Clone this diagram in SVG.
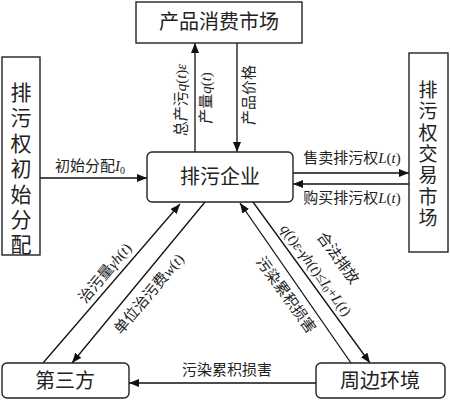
<svg xmlns="http://www.w3.org/2000/svg" width="450" height="401" viewBox="0 0 450 401">
<defs>
<marker id="ah" viewBox="0 0 10 8" refX="10" refY="4" markerWidth="10" markerHeight="8" markerUnits="userSpaceOnUse" orient="auto">
<path d="M0,0 L10,4 L0,8 z" fill="#111"/>
</marker>
<style>
.box{fill:#fff;stroke:#222;stroke-width:1.4}
.t{font-family:"Liberation Serif","Noto Sans CJK SC",serif;fill:#222}
.big{font-size:20px}
.lbl{font-size:15px}
.i{font-style:italic}
.ln{stroke:#111;stroke-width:1.3;fill:none;marker-end:url(#ah)}
</style>
</defs>
<rect width="450" height="401" fill="#fff"/>
<g id="connectors">
<line class="ln" x1="195" y1="153" x2="195" y2="43"/>
<line class="ln" x1="237" y1="43" x2="237" y2="152"/>
<line class="ln" x1="40" y1="178" x2="147" y2="178"/>
<line class="ln" x1="293" y1="173" x2="409" y2="173"/>
<line class="ln" x1="409" y1="184" x2="293" y2="184"/>
<line class="ln" x1="43" y1="363" x2="180" y2="204"/>
<line class="ln" x1="205" y1="202" x2="72" y2="363"/>
<line class="ln" x1="351" y1="363" x2="240" y2="203"/>
<line class="ln" x1="253" y1="202" x2="370" y2="363"/>
<line class="ln" x1="316" y1="383" x2="129" y2="383"/>
<g class="t lbl" dominant-baseline="central" text-anchor="middle">
<text transform="translate(181,100) rotate(-90)">总产污<tspan class="i">q</tspan>(<tspan class="i">t</tspan>)<tspan class="i">ε</tspan></text>
<text transform="translate(206,98) rotate(-90)">产量<tspan class="i">q</tspan>(<tspan class="i">t</tspan>)</text>
<text transform="translate(249,95) rotate(-90)">产品价格</text>
<text x="90" y="166">初始分配<tspan class="i">I</tspan><tspan font-size="10" dy="4">0</tspan></text>
<text x="352" y="158">售卖排污权<tspan class="i">L</tspan>(<tspan class="i">t</tspan>)</text>
<text x="352" y="198">购买排污权<tspan class="i">L</tspan>(<tspan class="i">t</tspan>)</text>
<text x="227" y="370">污染累积损害</text>
<text transform="translate(105,273) rotate(-50)">治污量<tspan class="i">γh</tspan>(<tspan class="i">t</tspan>)</text>
<text transform="translate(149,294) rotate(-50)">单位治污费<tspan class="i">w</tspan>(<tspan class="i">t</tspan>)</text>
<text transform="translate(286,295) rotate(54)">污染累积损害</text>
<text transform="translate(338,258) rotate(54)">合法排放</text>
<text transform="translate(316,270) rotate(54)"><tspan class="i">q</tspan>(<tspan class="i">t</tspan>)<tspan class="i">ε</tspan>-<tspan class="i">γh</tspan>(<tspan class="i">t</tspan>)≤<tspan class="i">I</tspan><tspan font-size="10" dy="3">0</tspan><tspan dy="-3">+</tspan><tspan class="i">L</tspan>(<tspan class="i">t</tspan>)</text>
</g>
</g>
<g id="market">
<rect class="box" x="136" y="2" width="166" height="41"/>
<text class="t big" x="219" y="29" text-anchor="middle">产品消费市场</text>
</g>
<g id="enterprise">
<rect class="box" x="147" y="152" width="146" height="50" rx="5"/>
<text class="t big" x="220" y="184" text-anchor="middle">排污企业</text>
</g>
<g id="initial">
<rect class="box" x="2" y="57" width="38" height="198"/>
<g class="t" font-size="21" text-anchor="middle">
<text x="21" y="100">排</text>
<text x="21" y="125">污</text>
<text x="21" y="151">权</text>
<text x="21" y="176">初</text>
<text x="21" y="202">始</text>
<text x="21" y="227">分</text>
<text x="21" y="252">配</text>
</g>
</g>
<g id="trade">
<rect class="box" x="409" y="53" width="39" height="199"/>
<g class="t" font-size="19" text-anchor="middle">
<text x="428" y="97">排</text>
<text x="428" y="118">污</text>
<text x="428" y="140">权</text>
<text x="428" y="161">交</text>
<text x="428" y="182">易</text>
<text x="428" y="204">市</text>
<text x="428" y="225">场</text>
</g>
</g>
<g id="third">
<rect class="box" x="2" y="363" width="127" height="35" rx="5"/>
<text class="t big" x="65" y="388" text-anchor="middle">第三方</text>
</g>
<g id="environment">
<rect class="box" x="316" y="363" width="129" height="35" rx="5"/>
<text class="t big" x="380" y="388" text-anchor="middle">周边环境</text>
</g>
</svg>
